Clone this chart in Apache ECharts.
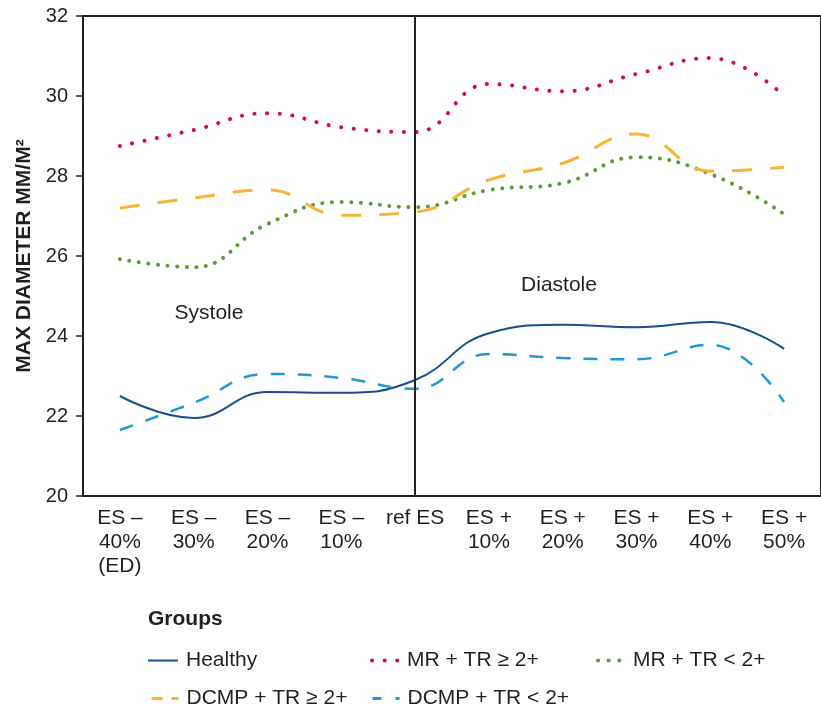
<!DOCTYPE html>
<html><head><meta charset="utf-8">
<script src="https://cdn.jsdelivr.net/npm/echarts@6/dist/echarts.min.js"></script>
<style>html,body{margin:0;padding:0;background:#fff}#c{width:821px;height:713px}</style>
</head><body><div id="c"></div>
<script>
const categories = ['ES –\n40%\n(ED)', 'ES –\n30%', 'ES –\n20%', 'ES –\n10%', 'ref ES', 'ES +\n10%', 'ES +\n20%', 'ES +\n30%', 'ES +\n40%', 'ES +\n50%'];
const healthy   = [22.5, 21.95, 22.6, 22.58, 22.9, 24.07, 24.28, 24.22, 24.35, 23.68];
const mrTrHigh  = [28.75, 29.15, 29.57, 29.22, 29.1, 30.3, 30.12, 30.55, 30.95, 30.0];
const mrTrLow   = [25.92, 25.72, 26.8, 27.35, 27.22, 27.65, 27.82, 28.47, 28.05, 27.05];
const dcmpHigh  = [27.2, 27.45, 27.65, 27.02, 27.1, 27.9, 28.32, 29.05, 28.12, 28.22];
const dcmpLow   = [21.65, 22.33, 23.05, 22.95, 22.68, 23.55, 23.45, 23.42, 23.78, 22.35];
const yTicks = [20, 22, 24, 26, 28, 30, 32];

const FONT = 'Liberation Sans';
const TXT = '#231f20';
const chart = echarts.init(document.getElementById('c'));

function ser(name, data, color, width, type, cap) {
  return {
    name, type: 'line', data, smooth: 0.45, showSymbol: false, symbol: 'none',
    lineStyle: { color, width, type, cap: cap || 'butt' },
    itemStyle: { color },
    z: 3
  };
}
const series = [
  ser('Healthy', healthy, '#1b4f8a', 2, 'solid'),
  ser('MR + TR ≥ 2+', mrTrHigh, '#d4103c', 4, [0.1, 12.5], 'round'),
  ser('MR + TR < 2+', mrTrLow, '#5d9b3b', 4, [0.1, 9.5], 'round'),
  ser('DCMP + TR ≥ 2+', dcmpHigh, '#f7b538', 3, [20, 18]),
  ser('DCMP + TR < 2+', dcmpLow, '#1e9ad6', 2.5, [14, 13])
];
series[0].markLine = {
  silent: true, symbol: 'none', label: { show: false },
  lineStyle: { color: '#231f20', width: 2, type: 'solid' },
  data: [{ xAxis: 'ref ES' }]
};

function leg(name, left, top, lineStyle) {
  return {
    data: [name], left, top, itemWidth: 30, itemHeight: 12,
    itemStyle: { opacity: 0 },
    lineStyle,
    textStyle: { fontFamily: FONT, fontSize: 21, color: TXT, padding: [0, 0, 0, 3] },
    selectedMode: false
  };
}

chart.setOption({
  animation: false,
  grid: { left: 83, top: 16, width: 740, bottom: 217, show: true, borderColor: '#231f20', borderWidth: 2 },
  xAxis: {
    type: 'category', data: categories, boundaryGap: true,
    axisLine: { lineStyle: { color: '#231f20', width: 2 } },
    axisTick: { show: false },
    axisLabel: { fontFamily: FONT, fontSize: 21, color: TXT, lineHeight: 24, margin: 10, interval: 0 }
  },
  yAxis: {
    type: 'value', min: yTicks[0], max: yTicks[yTicks.length - 1], interval: 2,
    name: 'MAX DIAMETER MM/M²', nameLocation: 'middle', nameGap: 48,
    nameTextStyle: { fontFamily: FONT, fontSize: 21, fontWeight: 'bold', color: TXT },
    axisLine: { show: true, lineStyle: { color: '#231f20', width: 2 } },
    axisTick: { show: true, length: 7, lineStyle: { color: '#231f20', width: 1.5 } },
    axisLabel: { fontFamily: FONT, fontSize: 20, color: TXT, margin: 15 },
    splitLine: { show: false }
  },
  legend: [
    leg('Healthy', 142, 645, { width: 2 }),
    leg('MR + TR ≥ 2+', 362, 645, { width: 4, type: [0.1, 12.5], cap: 'round', dashOffset: -3 }),
    leg('MR + TR < 2+', 588, 645, { width: 4, type: [0.1, 10.5], cap: 'round', dashOffset: -3 }),
    leg('DCMP + TR ≥ 2+', 142, 683, { width: 3, type: [11, 9] }),
    leg('DCMP + TR < 2+', 363, 683, { width: 3, type: [9, 14] })
  ],
  graphic: [
    { type: 'text', left: 148, top: 609, style: { text: 'Groups', font: 'bold 21px ' + FONT, fill: TXT } },
    { type: 'text', x: 209, y: 313, style: { text: 'Systole', font: '21px ' + FONT, fill: TXT, align: 'center', verticalAlign: 'middle' } },
    { type: 'text', x: 559, y: 285, style: { text: 'Diastole', font: '21px ' + FONT, fill: TXT, align: 'center', verticalAlign: 'middle' } }
  ],
  series
});
</script></body></html>
